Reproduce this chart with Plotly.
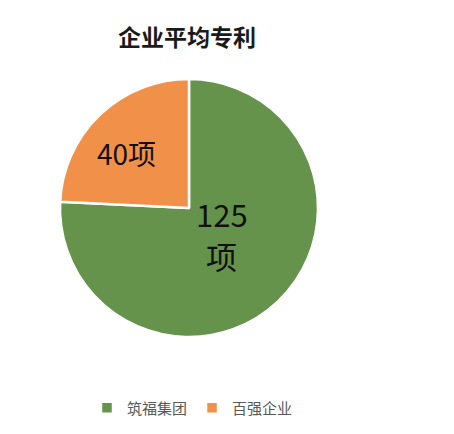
import math
import plotly.graph_objects as go

labels = ["筑福集团", "百强企业"]
values = [125, 40]
unit = "项"
colors = ["#66934B", "#F19149"]
title_text = "企业平均专利"

# style / layout parameters (pixels in figure coordinates)
W, H = 454, 434
OFF = 8                      # page body margin
cx, cy, r = 189 - OFF, 208 - OFF, 129
label_frac = [0.33, 0.65]    # radial position of each slice label (fraction of radius)
label_turn = [-7.0, -5.0]    # angular nudge from slice mid-angle, degrees
label_wrap = [True, False]   # unit on its own line
label_size = [31, 28]
line_gap = 42                # px between wrapped lines
font_family = "Noto Sans CJK SC, Noto Sans, sans-serif"

fig = go.Figure(go.Pie(
    labels=labels,
    values=values,
    sort=False,
    direction="clockwise",
    rotation=0,
    marker=dict(colors=colors, line=dict(color="white", width=2.5)),
    textinfo="none",
    hoverinfo="label+value",
    domain=dict(x=[(cx - r) / W, (cx + r) / W], y=[(H - (cy + r)) / H, (H - (cy - r)) / H]),
))


def put(text, px, py, size):
    fig.add_annotation(
        x=px / W, y=1 - py / H, xref="paper", yref="paper",
        text=text, showarrow=False, xanchor="center", yanchor="middle",
        borderpad=0,
        font=dict(family=font_family, size=size, color="#111111"),
    )


total = sum(values)
cum = 0
for v, frac, turn, wrap, sz in zip(values, label_frac, label_turn, label_wrap, label_size):
    mid = (cum + v / 2) / total * 2 * math.pi + math.radians(turn)
    cum += v
    px = cx + frac * r * math.sin(mid)
    py = cy - frac * r * math.cos(mid)
    if wrap:
        put(f"{v}", px, py - line_gap / 2, sz)
        put(unit, px, py + line_gap / 2, sz)
    else:
        put(f"{v}{unit}", px, py, sz)

fig.update_layout(
    width=W, height=H,
    margin=dict(l=0, r=0, t=0, b=0),
    paper_bgcolor="white",
    plot_bgcolor="white",
    title=dict(
        text="<b>" + title_text + "</b>",
        x=(187 - OFF) / W, xanchor="center",
        y=1 - (38 - OFF) / H, yanchor="middle",
        font=dict(family=font_family, size=23, color="#1a1a1a"),
    ),
    legend=dict(
        orientation="h",
        x=(87 - OFF) / W, xanchor="left",
        y=1 - (408 - OFF) / H, yanchor="middle",
        font=dict(family=font_family, size=15, color="#595959"),
        itemclick=False,
    ),
)

fig.write_html("out.html")
